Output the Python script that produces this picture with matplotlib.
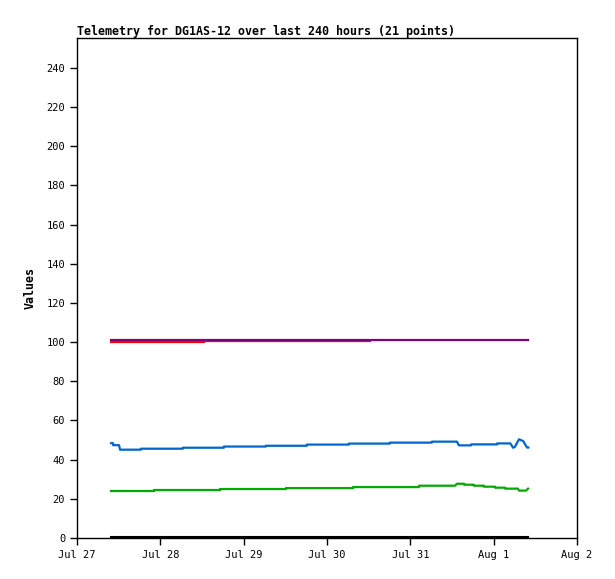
#!/usr/bin/env python3

# telemetry chart, DG1AS-12

import numpy as np
import pandas as pd
import matplotlib
matplotlib.use('Agg')
import matplotlib.pyplot as plt
import matplotlib.dates as mdates

start = pd.Timestamp('2024-07-27 00:00')

# hours after Jul 27 00:00
blue_h = [9.8, 10.4, 10.4, 12.1, 12.4, 18.4, 18.4, 30.5, 30.5, 42.3, 42.3, 54.4, 54.4,
          66.2, 66.2, 78.3, 78.3, 90.1, 90.1, 102.2, 102.2, 109.4, 110.0, 113.5, 113.5,
          121.0, 121.0, 124.8, 125.6, 126.1, 127.3, 128.5, 129.6, 130.0]
blue_v = [48.4, 48.4, 47.4, 47.4, 45.1, 45.1, 45.6, 45.6, 46.1, 46.1, 46.7, 46.7, 47.1,
          47.1, 47.7, 47.7, 48.2, 48.2, 48.7, 48.7, 49.2, 49.2, 47.3, 47.3, 47.8,
          47.8, 48.3, 48.3, 46.1, 46.5, 50.4, 49.5, 46.2, 46.2]

green_h = [9.8, 22.2, 22.2, 41.2, 41.2, 60.2, 60.2, 79.5, 79.5, 98.5, 98.5, 108.9, 109.4,
           111.5, 111.5, 114.3, 114.3, 117.2, 117.2, 120.4, 120.4, 123.3, 123.3, 127.0,
           127.3, 129.3, 129.9]
green_v = [24.0, 24.0, 24.5, 24.5, 25.0, 25.0, 25.5, 25.5, 26.0, 26.0, 26.7, 26.7, 27.7,
           27.7, 27.2, 27.2, 26.7, 26.7, 26.2, 26.2, 25.7, 25.7, 25.2, 25.2,
           24.2, 24.2, 25.2]

red_h = [9.8, 36.6, 36.6, 84.4]
red_v = [100.2, 100.2, 100.8, 100.8]

purple_h = [9.8, 130.0]
purple_v = [101.2, 101.2]

black_h = [9.8, 130.0]
black_v = [0.5, 0.5]

yticks = list(range(0, 241, 20))

def tt(h):
    return start + pd.to_timedelta(np.array(h), unit='h')

fig = plt.figure(figsize=(6.15, 5.79), dpi=100)
ax = fig.add_axes([77/615, 41/579, 500/615, 500/579])

mono = 'DejaVu Sans Mono'
ax.plot(tt(black_h), black_v, color='#000000', lw=1.5)
ax.plot(tt(green_h), green_v, color='#00aa00', lw=1.6)
ax.plot(tt(blue_h), blue_v, color='#0066cc', lw=1.6)
ax.plot(tt(red_h), red_v, color='#ff0000', lw=1.6)
ax.plot(tt(purple_h), purple_v, color='#800080', lw=1.6)

ax.set_xlim(start, start + pd.Timedelta(days=6))
ax.set_ylim(0, 255.3)
ax.set_yticks(yticks)
ax.xaxis.set_major_locator(mdates.DayLocator())
ax.xaxis.set_major_formatter(mdates.DateFormatter('%b %-d'))

ax.tick_params(direction='out', length=5, width=1, labelsize=7.5, colors='black')
for lab in ax.get_xticklabels() + ax.get_yticklabels():
    lab.set_family(mono)

ax.set_ylabel('Values', fontfamily=mono, fontweight='bold', fontsize=8.4, labelpad=7)
ax.set_title('Telemetry for DG1AS-12 over last 240 hours (21 points)', loc='left',
             fontfamily=mono, fontweight='bold', fontsize=8.4, pad=2)

for s in ax.spines.values():
    s.set_linewidth(1)

plt.savefig('out.png', dpi=100)
